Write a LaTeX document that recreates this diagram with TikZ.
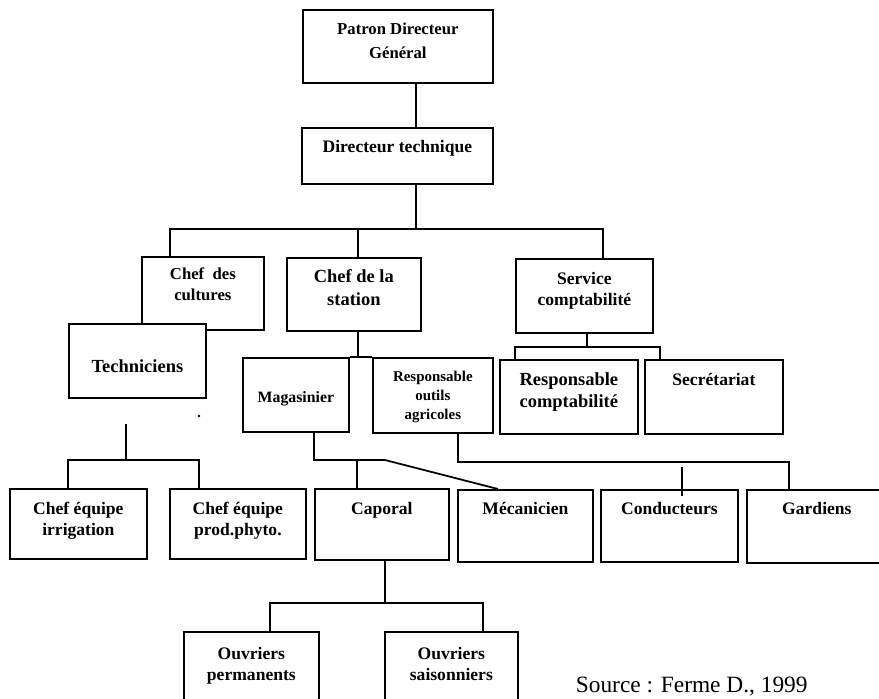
\documentclass[tikz,border=0pt]{standalone}
\usepackage{fontspec}
\setmainfont{Liberation Serif}
\begin{document}
\begin{tikzpicture}[x=0.02cm, y=-0.02cm, line width=1pt,
  box/.style={draw, fill=white, anchor=north west, inner sep=0pt},
  boxsize/.style 2 args={minimum width=#1*0.02cm, minimum height=#2*0.02cm},
  lbl/.style={anchor=north, align=center, inner sep=0pt, yshift=-#1*0.02cm,
    font=\bfseries\fontsize{10}{12}\selectfont},
  lbl/.default=13]
\useasboundingbox (0,0) rectangle (879,698);
% direction
\node[box, boxsize={190}{73}, label={[lbl, font=\bfseries\fontsize{9.5}{13.6}\selectfont]north:{Patron Directeur\\Général}}] (pdg) at (302,9) {};
\node[box, boxsize={191}{56}, label={[lbl=12]north:{Directeur technique}}] (dt) at (301,127) {};
% second level
\node[box, boxsize={122}{73}, label={[lbl=11, font=\bfseries\fontsize{9.5}{12}\selectfont]north:{Chef\ \ des\\cultures}}] (ccult) at (141,256) {};
\node[box, boxsize={134}{73}, label={[lbl=12, font=\bfseries\fontsize{10.5}{13}\selectfont]north:{Chef de la\\station}}] (station) at (286,257) {};
\node[box, boxsize={137}{74}, label={[lbl]north:{Service\\comptabilité}}] (scompta) at (515,258) {};
\node[box, boxsize={137}{74}, label={[lbl=36, font=\bfseries\fontsize{10.5}{12}\selectfont]north:{Techniciens}}] (tech) at (68,323) {};
% third level
\node[box, boxsize={106}{74}, label={[lbl=34, font=\bfseries\fontsize{9}{11}\selectfont]north:{Magasinier}}] (mag) at (242,357) {};
\node[box, boxsize={120}{75}, label={[lbl=13, font=\bfseries\fontsize{8.5}{10.8}\selectfont]north:{Responsable\\outils\\agricoles}}] (respout) at (372,357) {};
\node[box, boxsize={138}{74}, label={[lbl, font=\bfseries\fontsize{10.5}{12.5}\selectfont]north:{Responsable\\comptabilité}}] (rcompta) at (499,359) {};
\node[box, boxsize={138}{74}, label={[lbl]north:{Secrétariat}}] (secr) at (644,359) {};
% fourth level
\node[box, boxsize={137}{70}, label={[lbl]north:{Chef équipe\\irrigation}}] (ceirr) at (9,488) {};
\node[box, boxsize={136}{70}, label={[lbl]north:{Chef équipe\\prod.phyto.}}] (cephy) at (169,488) {};
\node[box, boxsize={134}{71}, label={[lbl]north:{Caporal}}] (capo) at (314,488) {};
\node[box, boxsize={135}{72}, label={[lbl=12]north:{Mécanicien}}] (meca) at (457,489) {};
\node[box, boxsize={137}{72}, label={[lbl=12]north:{Conducteurs}}] (cond) at (600,489) {};
\node[box, boxsize={140}{73}, label={[lbl=12]north:{Gardiens}}] (gard) at (746,489) {};
% ouvriers
\node[box, boxsize={135}{90}, label={[lbl=15]north:{Ouvriers\\permanents}}] (operm) at (183,631) {};
\node[box, boxsize={133}{90}, label={[lbl=15]north:{Ouvriers\\saisonniers}}] (osais) at (384,631) {};
\node[anchor=base west, inner sep=0pt, font=\fontsize{13.3}{16}\selectfont] (src) at (575,692) {Source : Ferme D., 1999};
\fill (199,416) circle (0.8pt);
% liaisons
\coordinate (bus1) at (416,229);
\draw (416,0 |- pdg.south) -- (416,0 |- dt.north);
\draw (416,0 |- dt.south) -- (bus1);
\draw (170,0 |- ccult.north) |- (bus1);
\draw (603,0 |- scompta.north) |- (bus1);
\draw (358,0 |- station.north) -- (358,0 |- bus1);
\draw (358,0 |- station.south) -- (358,0 |- mag.north);
\draw (mag.north east) -- (respout.north west);
\coordinate (bus3) at (587,347);
\draw (587,0 |- scompta.south) -- (bus3);
\draw (515,0 |- rcompta.north) |- (bus3);
\draw (660,0 |- secr.north) |- (bus3);
\coordinate (t1) at (126,424);
\coordinate (bus4) at (126,460);
\draw (t1) -- (bus4);
\draw (68,0 |- ceirr.north) |- (bus4);
\draw (199,0 |- cephy.north) |- (bus4);
\coordinate (bus5) at (385,460);
\draw (314,0 |- mag.south) |- (bus5) -- (498,0 |- meca.north);
\draw (357,0 |- capo.north) -- (357,0 |- bus5);
\draw (458,0 |- respout.south) |- (789,462) -- (789,0 |- gard.north);
\coordinate (c1) at (682,467);
\coordinate (c2) at (682,496);
\draw (c1) -- (c2);
\coordinate (bus6) at (385,603);
\draw (385,0 |- capo.south) -- (bus6);
\draw (270,0 |- operm.north) |- (bus6);
\draw (483,0 |- osais.north) |- (bus6);
\end{tikzpicture}
\end{document}
